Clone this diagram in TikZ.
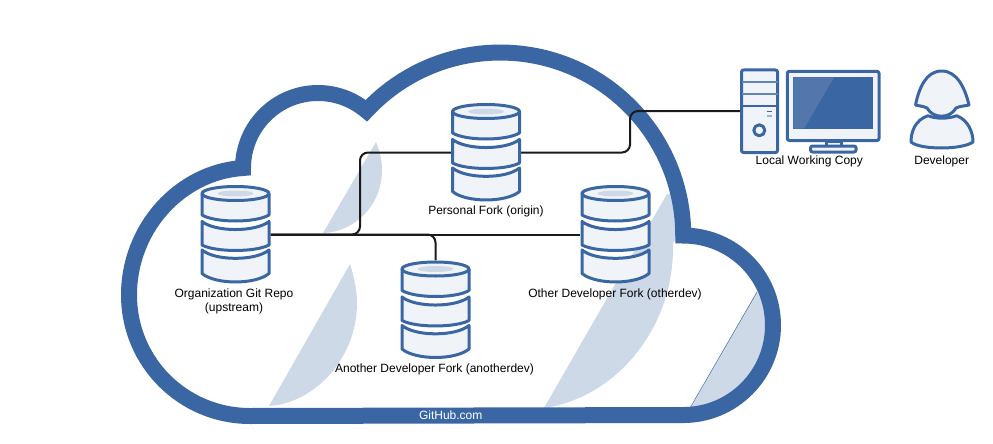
\documentclass[tikz,border=0pt]{standalone}
\usepackage{fontspec}
\setmainfont{Liberation Sans}
\usepackage{tikz}
\usetikzlibrary{positioning}
\definecolor{cloudblue}{HTML}{3A67A3}
\definecolor{lightblue}{HTML}{CDD9E7}
\definecolor{paleblue}{HTML}{F0F4F9}
\definecolor{glareblue}{HTML}{5377AD}
\definecolor{linkcolor}{HTML}{1A1A1A}
\tikzset{every node/.append style={align=center}}
\tikzset{
  iconline/.style={draw=cloudblue, line width=3pt, line join=round, fill=paleblue},
  wedge/.style={fill=lightblue},
  link/.style={draw=linkcolor, line width=2pt, rounded corners=8pt},
  repobox/.style={minimum width=70pt, minimum height=99pt, inner sep=0pt},
  caption/.style={font=\fontsize{12}{14}\selectfont, text=black, inner sep=0pt},
  pics/repoicon/.style={code={
    \draw[iconline] (-33.5,15.5) .. controls (-20,26.6) and (20,26.6) .. (33.5,15.5) -- (33.5,39) .. controls (20,50.3) and (-20,50.3) .. (-33.5,39) -- cycle;
    \draw[iconline] (-33.5,-13) .. controls (-20,-2.3) and (20,-2.3) .. (33.5,-13) -- (33.5,10.5) .. controls (20,17.8) and (-20,17.8) .. (-33.5,10.5) -- cycle;
    \draw[iconline] (-33.5,-41) -- (-33.5,-19.5) .. controls (-20,-11.5) and (20,-11.5) .. (33.5,-19.5) -- (33.5,-41);
    \draw[iconline] (0,-41) ellipse [x radius=33.5, y radius=7];
    \fill[lightblue] (0,-41) ellipse [x radius=18, y radius=3];
  }}
}
\begin{document}
\begin{tikzpicture}[x=1pt, y=-1pt]
  \useasboundingbox (0,0) rectangle (993,444);

  % Glare on the cloud
  \fill[wedge] (376,142) .. controls (380,152) and (382,161) .. (382,170) .. controls (382,205) and (355,232) .. (323,233) -- cycle;
  \fill[wedge] (350,264) .. controls (354,277) and (357,290) .. (357,303) .. controls (357,358) and (315,403) .. (269,406) -- cycle;
  \fill[wedge] (667,194) -- (678,194) -- (678,236) -- (673,243) -- (673,250) .. controls (672,330) and (615,398) .. (544,408) -- cycle;
  \fill[wedge] (757,292) -- (690,409) .. controls (730,405) and (768,370) .. (768,326) .. controls (768,315) and (765,305) .. (757,292) -- cycle;
  \draw[cloudblue, line width=0.5pt] (757,292) -- (690,408);

  % Cloud outline
  \draw[cloudblue, line width=16pt, miter limit=10] (250,416) .. controls (183,416) and (129,362) .. (129,295)
    .. controls (129,228) and (180,172) .. (243,168)
    arc[start angle=180, end angle=310.2, radius=75]
    arc[start angle=223, end angle=360, radius=183]
    arc[start angle=270, end angle=450, radius=89.75] -- cycle;
  \node[caption, text=white] (github) at (450.7,415.5) {GitHub.com};

  % Repositories
  \node[repobox] (upstream) at (235.5,234.5) {};
  \node[repobox] (origin) at (486,152.5) {};
  \node[repobox] (otherdev) at (615.5,234.5) {};
  \node[repobox] (anotherdev) at (435.5,310) {};
  \node[minimum width=38pt, minimum height=84pt, inner sep=0pt] (tower) at (759.4,111) {};

  % Connections
  \draw[link] (upstream.east) -- (360,234.5) |- (origin.west);
  \draw[link] (origin.east) -- (630,152.5) |- (tower.west);
  \draw[link] (upstream.east) -| (anotherdev.north);
  \draw[link] (upstream.east) -- (otherdev.west);

  \foreach \repo in {upstream,origin,otherdev,anotherdev}
    \pic at (\repo) {repoicon};

  % Labels
  \node[caption] (upstreamlabel) at (234,301) {Organization Git Repo\\(upstream)};
  \node[caption] (originlabel) at (486,211) {Personal Fork (origin)};
  \node[caption] (anotherlabel) at (434.5,369) {Another Developer Fork (anotherdev)};
  \node[caption] (otherlabel) at (615,294) {Other Developer Fork (otherdev)};
  \node[caption] (locallabel) at (809.3,161.7) {Local Working Copy};
  \node[caption] (devlabel) at (941.7,161) {Developer};

  % Tower
  \draw[iconline, rounded corners=2pt] (741.5,70) rectangle (777.5,152.5);
  \draw[cloudblue!80!white, line width=2.2pt] (741.5,82.3) -- (777.5,82.3);
  \draw[cloudblue!80!white, line width=2.2pt] (741.5,94) -- (777.5,94);
  \draw[cloudblue, line width=2.2pt] (741.5,106) -- (777.5,106);
  \draw[cloudblue, line width=1.6pt] (767,111.5) -- (772,111.5);
  \draw[cloudblue!50!white, line width=1.6pt] (767,116) -- (772,116);
  \draw[iconline] (759.3,130.3) circle [radius=5.5];

  % Monitor
  \draw[iconline] (826,141) rectangle (841.7,146);
  \draw[iconline, rounded corners=2pt] (810.5,146) rectangle (856,152);
  \draw[iconline, rounded corners=2pt] (787.3,71.3) rectangle (879,140.5);
  \fill[cloudblue] (793.3,77.3) rectangle (873.3,128.7);
  \fill[glareblue] (793.3,77.3) -- (834,77.3) -- (804,128.7) -- (793.3,128.7) -- cycle;

  % Developer
  \draw[iconline] (928,115.7) .. controls (915,120) and (911,132) .. (911,142)
    .. controls (920,150) and (962,150) .. (973,142)
    .. controls (973,132) and (968,120) .. (956.7,115.7)
    .. controls (948,119) and (936,119) .. (928,115.7) -- cycle;
  \draw[iconline] (915.5,105) .. controls (919,88) and (926,71) .. (941.7,71)
    .. controls (957,71) and (965,88) .. (969,105)
    .. controls (965,106) and (960,106) .. (956,108)
    .. controls (950,119) and (933,119) .. (927,108)
    .. controls (923,106) and (919,106) .. (915.5,105) -- cycle;
\end{tikzpicture}
\end{document}
